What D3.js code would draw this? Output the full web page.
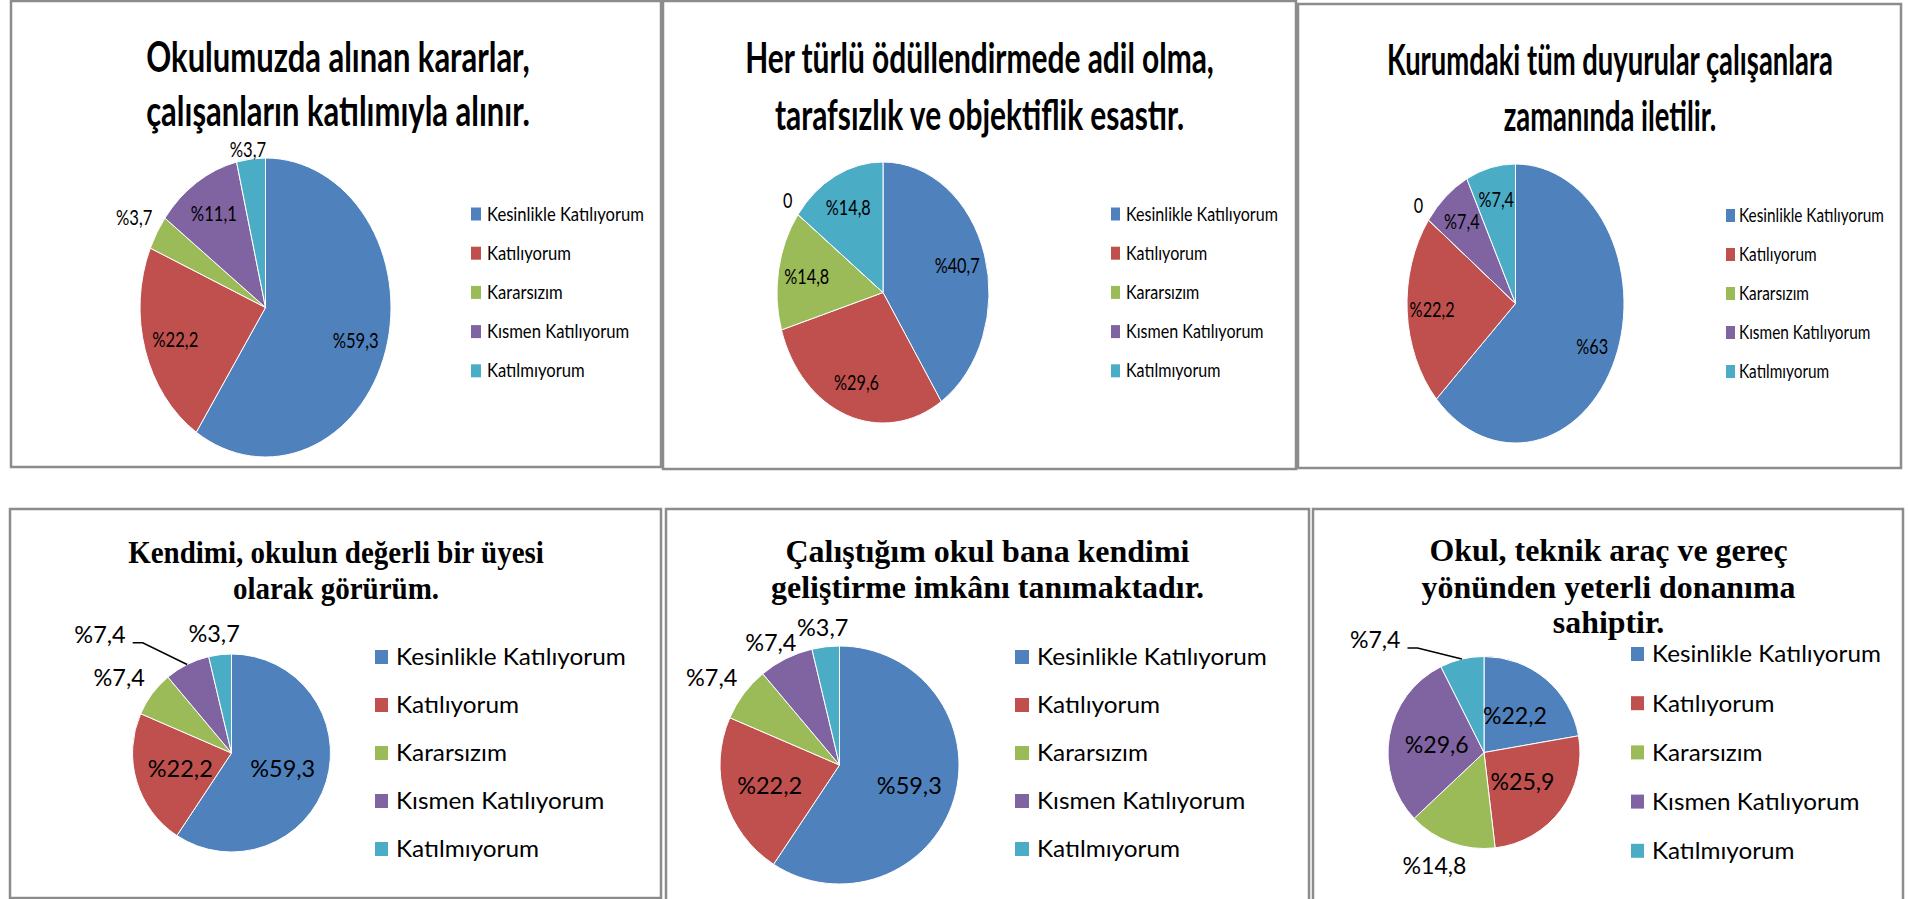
<!DOCTYPE html>
<html>
<head>
<meta charset="utf-8">
<script src="https://cdn.jsdelivr.net/npm/d3@7"></script>
<style>
  body { margin: 0; background: #fff; }
  svg { display: block; }
</style>
</head>
<body>
<div id="chart"></div>
<script>
// answer categories, same order in every pie
const categories = ["Kesinlikle Katılıyorum", "Katılıyorum", "Kararsızım", "Kısmen Katılıyorum", "Katılmıyorum"];

const titles = [
  ["Okulumuzda alınan kararlar,", "çalışanların katılımıyla alınır."],
  ["Her türlü ödüllendirmede adil olma,", "tarafsızlık ve objektiflik esastır."],
  ["Kurumdaki tüm duyurular çalışanlara", "zamanında iletilir."],
  ["Kendimi, okulun değerli bir üyesi", "olarak görürüm."],
  ["Çalıştığım okul bana kendimi", "geliştirme imkânı tanımaktadır."],
  ["Okul, teknik araç ve gereç", "yönünden yeterli donanıma", "sahiptir."]
];

// percentages per question
const kararlar   = [59.3, 22.2, 3.7, 11.1, 3.7];
const odul       = [40.7, 29.6, 14.8, 0, 14.8];
const duyurular  = [63, 22.2, 0, 7.4, 7.4];
const degerli    = [59.3, 22.2, 7.4, 7.4, 3.7];
const gelistirme = [59.3, 22.2, 7.4, 7.4, 3.7];
const donanim    = [22.2, 25.9, 14.8, 29.6, 7.4];
const allValues = [kararlar, odul, duyurular, degerli, gelistirme, donanim];

const colors = ["#4F81BD", "#C0504D", "#9BBB59", "#8064A2", "#4BACC6"];

const SANS = "Lato, 'Open Sans', sans-serif";
const SERIF = "'Liberation Serif', 'Times New Roman', serif";

// layout of each chart box (positions and styles only)
const panels = [
  { box: [11, 1, 661, 467], titleFont: SANS, titleSize: 42, titleX: 338, titleY: [72, 126], titleW: 384,
    cx: 265.5, cy: 307.5, rx: 125.5, ry: 149.5, inR: 0.75, outside: [2, 4], gap: 8, nudge: { 2: [0, -7], 4: [0, 7] },
    labelSize: 22, labelW: 46,
    sqX: 471, sqW: 10, sqH: 13, legX: 487, legY: 214, legDy: 39.2, legSize: 19, legW: 157 },
  { box: [663, 1, 1296, 469], titleFont: SANS, titleSize: 42, titleX: 979.5, titleY: [73, 130], titleW: 469,
    cx: 883, cy: 292.5, rx: 106, ry: 130.5, inR: 0.73, outside: [3], gap: 8, nudge: { 3: [0, -4] },
    labelSize: 22, labelW: 45,
    sqX: 1111, sqW: 9, sqH: 13, legX: 1126, legY: 214, legDy: 39.2, legSize: 19, legW: 152 },
  { box: [1298, 4, 1901, 468], titleFont: SANS, titleSize: 42, titleX: 1610, titleY: [75, 131], titleW: 446,
    cx: 1515.5, cy: 303.5, rx: 108.5, ry: 139.5, inR: 0.77, outside: [2], gap: 8, nudge: { 2: [0, -5] },
    labelSize: 22, labelW: 45,
    sqX: 1726, sqW: 9, sqH: 13, legX: 1739, legY: 215.5, legDy: 39, legSize: 19, legW: 145 },
  { box: [10, 509, 661, 898], titleFont: SERIF, titleSize: 32, titleX: 336, titleY: [563, 599], titleW: 416,
    cx: 231.5, cy: 753, rx: 99, ry: 99, inR: 0.54, outside: [2, 3, 4], gap: 8, nudge: { 2: [-6, -6], 4: [-2, -4] },
    leader: { 3: [-72, -14] },
    labelSize: 24, labelW: 65,
    sqX: 375, sqW: 13, sqH: 14, legX: 396, legY: 657, legDy: 48, legSize: 24, legW: 230 },
  { box: [666, 509, 1309, 902], titleFont: SERIF, titleSize: 32, titleX: 987.5, titleY: [562, 598], titleW: 433,
    cx: 839.5, cy: 765, rx: 119.5, ry: 119, inR: 0.61, outside: [2, 3, 4], gap: 8, nudge: { 2: [-5, -6], 4: [1, -2] },
    labelSize: 24, labelW: 65,
    sqX: 1015, sqW: 14, sqH: 14, legX: 1037, legY: 657, legDy: 48, legSize: 24, legW: 230 },
  { box: [1313, 509, 1903, 902], titleFont: SERIF, titleSize: 32, titleX: 1608.5, titleY: [561, 598, 633], titleW: 374,
    cx: 1484, cy: 752.5, rx: 96, ry: 96, inR: 0.5, outside: [2, 4], gap: 8, nudge: { 2: [-3, 6] },
    leader: { 4: [-79, -2] },
    labelSize: 24, labelW: 64,
    sqX: 1631, sqW: 13, sqH: 14, legX: 1652, legY: 654, legDy: 49.2, legSize: 24, legW: 229 }
];

const svg = d3.select("#chart").append("svg")
  .attr("width", 1909)
  .attr("height", 899);

svg.append("rect").attr("width", 1909).attr("height", 899).attr("fill", "#fff");

const probe = svg.append("text").attr("x", -2000).attr("y", -2000);
function measure(str, font, size, weight) {
  probe.attr("font-family", font).attr("font-size", size).attr("font-weight", weight).text(str);
  return probe.node().getComputedTextLength();
}

const fmt = v => v === 0 ? "0" : "%" + String(v).replace(".", ",");

const R = 100;
const arc = d3.arc().innerRadius(0).outerRadius(R);
const pie = d3.pie().sort(null).value(d => d);

panels.forEach((p, k) => {
  const g = svg.append("g");

  g.append("rect")
    .attr("x", p.box[0]).attr("y", p.box[1])
    .attr("width", p.box[2] - p.box[0]).attr("height", p.box[3] - p.box[1])
    .attr("fill", "#fff")
    .attr("stroke", "#8c8c8c")
    .attr("stroke-width", 2.5);

  // title
  const lines = titles[k];
  const widest = d3.max(lines, s => measure(s, p.titleFont, p.titleSize, 700));
  const tsx = p.titleW / widest;
  lines.forEach((s, i) => {
    g.append("text")
      .attr("transform", `translate(${p.titleX},${p.titleY[i]}) scale(${tsx},1)`)
      .attr("text-anchor", "middle")
      .attr("font-family", p.titleFont)
      .attr("font-weight", 700)
      .attr("font-size", p.titleSize)
      .attr("fill", "#000")
      .text(s);
  });

  // pie, drawn on a circle and stretched into the box's ellipse
  const arcs = pie(allValues[k]);
  g.append("g")
    .attr("transform", `translate(${p.cx},${p.cy}) scale(${p.rx / R},${p.ry / R})`)
    .selectAll("path")
    .data(arcs)
    .join("path")
    .attr("d", arc)
    .attr("fill", (d, i) => colors[i])
    .attr("stroke", "#fff")
    .attr("stroke-width", 1)
    .attr("vector-effect", "non-scaling-stroke");

  // data labels
  const lsx = p.labelW / measure("%59,3", SANS, p.labelSize, 400);
  arcs.forEach((d, i) => {
    const a = (d.startAngle + d.endAngle) / 2;
    const s = Math.sin(a), c = Math.cos(a);
    const txt = fmt(d.data);
    const w = measure(txt, SANS, p.labelSize, 400) * lsx;
    const h = p.labelSize * 0.8;
    let x, y;
    if (p.outside.includes(i)) {
      const px = p.cx + (p.rx + p.gap) * s;
      const py = p.cy - (p.ry + p.gap) * c;
      x = px + w / 2 * s;
      y = py - h / 2 * c;
    } else {
      x = p.cx + p.rx * p.inR * s;
      y = p.cy - p.ry * p.inR * c;
    }
    if (p.nudge && p.nudge[i]) { x += p.nudge[i][0]; y += p.nudge[i][1]; }
    if (p.leader && p.leader[i]) {
      x += p.leader[i][0]; y += p.leader[i][1];
      const ex = p.cx + p.rx * s, ey = p.cy - p.ry * c;
      const lx = x + w / 2 + 7, ly = y + 8;
      g.append("polyline")
        .attr("points", [[lx, ly], [lx + 10, ly], [ex, ey]].join(" "))
        .attr("fill", "none")
        .attr("stroke", "#000")
        .attr("stroke-width", 1.5);
    }
    g.append("text")
      .attr("transform", `translate(${x},${y}) scale(${lsx},1)`)
      .attr("text-anchor", "middle")
      .attr("dy", "0.35em")
      .attr("font-family", SANS)
      .attr("font-size", p.labelSize)
      .attr("fill", "#000")
      .text(txt);
  });

  // legend
  const gsx = p.legW / measure(categories[0], SANS, p.legSize, 400);
  categories.forEach((name, i) => {
    const yy = p.legY + i * p.legDy;
    g.append("rect")
      .attr("x", p.sqX).attr("y", yy - p.sqH / 2)
      .attr("width", p.sqW).attr("height", p.sqH)
      .attr("fill", colors[i]);
    g.append("text")
      .attr("transform", `translate(${p.legX},${yy}) scale(${gsx},1)`)
      .attr("dy", "0.35em")
      .attr("font-family", SANS)
      .attr("font-size", p.legSize)
      .attr("fill", "#000")
      .text(name);
  });
});

probe.remove();
</script>
</body>
</html>
